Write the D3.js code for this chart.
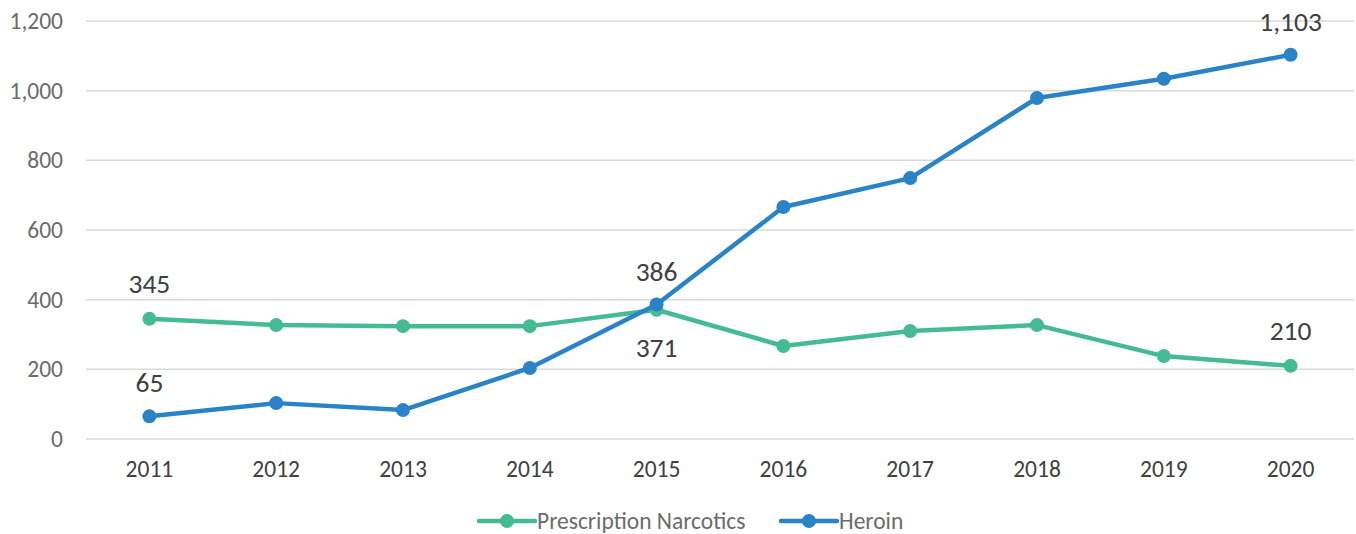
<!DOCTYPE html>
<html><head><meta charset="utf-8">
<script src="https://cdn.jsdelivr.net/npm/d3@7"></script>
<style>
body{margin:0;background:#fff;}
text{font-family:Carlito,"Open Sans","Liberation Sans",sans-serif;}
</style></head>
<body><svg id="c" width="1356" height="534"></svg>
<script>
const years = ["2011","2012","2013","2014","2015","2016","2017","2018","2019","2020"];
const prescription = [345,327,324,324,371,267,310,327,238,210];
const heroin = [65,103,83,204,386,666,749,979,1034,1103];
const yTicks = [0,200,400,600,800,1000,1200];
const seriesNames = ["Prescription Narcotics","Heroin"];
const colors = ["#44BB92","#2A83C7"];

const svg = d3.select("#c");
const pL=86, pR=1354, pT=21, pB=439;
const x = d3.scaleBand().domain(years).range([pL,pR]);
const y = d3.scaleLinear().domain([0,1200]).range([pB,pT]);
const fmt = d3.format(",");
const ff = 'Carlito,"Open Sans","Liberation Sans",sans-serif';

// gridlines
svg.append("g").selectAll("line").data(yTicks).join("line")
  .attr("x1",pL).attr("x2",pR).attr("y1",d=>y(d)).attr("y2",d=>y(d))
  .attr("stroke","#D9D9D9").attr("stroke-width",1.5);

// y axis labels
const yAxis = svg.append("g").attr("transform",`translate(66,0)`)
  .call(d3.axisLeft(y).tickValues(yTicks).tickFormat(fmt).tickSize(0));
yAxis.select(".domain").remove();
yAxis.selectAll("text").attr("font-size",23.5).attr("fill","#6b6b6b").style("font-family",ff);

// x axis labels
const xAxis = svg.append("g").attr("transform",`translate(0,${pB+18.5})`)
  .call(d3.axisBottom(x).tickSize(0));
xAxis.select(".domain").remove();
xAxis.selectAll("text").attr("font-size",23.5).attr("fill","#404040").attr("dy","0.71em").style("font-family",ff);

const cx = d=>x(d)+x.bandwidth()/2;
const data = [prescription, heroin];
data.forEach((vals,i)=>{
  const line = d3.line().x((d,j)=>cx(years[j])).y(d=>y(d));
  svg.append("path").datum(vals).attr("d",line).attr("fill","none")
    .attr("stroke",colors[i]).attr("stroke-width",4.5).attr("stroke-linejoin","round");
  svg.append("g").selectAll("circle").data(vals).join("circle")
    .attr("cx",(d,j)=>cx(years[j])).attr("cy",d=>y(d)).attr("r",7).attr("fill",colors[i]);
});

// data labels
const labelIdx = [0,4,9];
labelIdx.forEach(j=>{
  const pAbove = j!==4;
  svg.append("text").attr("x",cx(years[j])).attr("y",y(prescription[j])+(pAbove?-26:47))
    .attr("text-anchor","middle").attr("font-size",27.5).attr("fill","#404040")
    .text(fmt(prescription[j]));
  svg.append("text").attr("x",cx(years[j])).attr("y",y(heroin[j])-24)
    .attr("text-anchor","middle").attr("font-size",27.5).attr("fill","#404040")
    .text(fmt(heroin[j]));
});

// legend
const legend = [{x:479,w:56},{x:781,w:56}];
seriesNames.forEach((n,i)=>{
  const g = svg.append("g").attr("transform",`translate(${legend[i].x},521)`);
  g.append("line").attr("x1",0).attr("x2",legend[i].w).attr("stroke",colors[i])
    .attr("stroke-width",4.5).attr("stroke-linecap","round");
  g.append("circle").attr("cx",legend[i].w/2).attr("r",7).attr("fill",colors[i]);
  g.append("text").attr("x",legend[i].w+2).attr("y",0).attr("dy","0.33em")
    .attr("font-size",23.5).attr("fill","#6b6b6b").text(n);
});
</script></body></html>
